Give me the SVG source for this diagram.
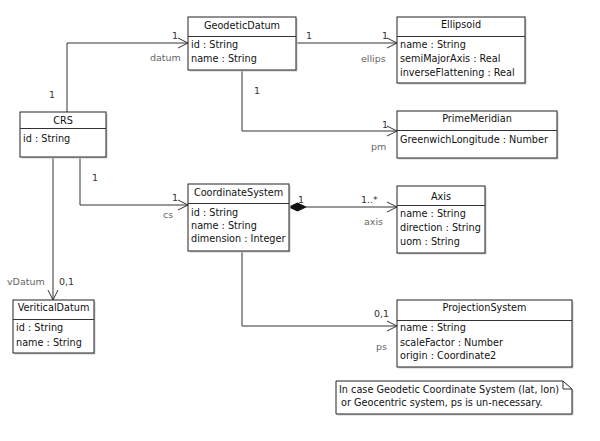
<svg xmlns="http://www.w3.org/2000/svg" width="600" height="441" viewBox="0 0 600 441">
<defs>
<style>
text{font-family:"DejaVu Sans","Liberation Sans",sans-serif;font-size:9.7px;fill:#111}
.t{text-anchor:middle}
.box{fill:#fff;stroke:#222;stroke-width:1}
.sh{fill:#ccc}
.ln{fill:none;stroke:#333;stroke-width:1}
.role{fill:#666;font-size:9.5px}
.mult{fill:#333;font-size:9.5px}
</style>
<marker id="open" markerWidth="12" markerHeight="12" refX="11" refY="6" orient="auto" markerUnits="userSpaceOnUse">
<path d="M1,1 L11,6 L1,11" fill="none" stroke="#333" stroke-width="1"/>
</marker>
</defs>
<rect width="600" height="441" fill="#fff"/>

<g id="connectors">
<path class="ln" d="M67,112 V43 H188" marker-end="url(#open)"/>
<path class="ln" d="M80,157 V205 H188" marker-end="url(#open)"/>
<path class="ln" d="M53,157 V300" marker-end="url(#open)"/>
<path class="ln" d="M296,43 H397" marker-end="url(#open)"/>
<path class="ln" d="M242,70 V131 H397" marker-end="url(#open)"/>
<path class="ln" d="M306,207 H397" marker-end="url(#open)"/>
<path d="M289,207 L297.5,203 L306,207 L297.5,211 Z" fill="#111" stroke="#111"/>
<path class="ln" d="M242,251 V326 H397" marker-end="url(#open)"/>
<text class="mult" x="49" y="98">1</text>
<text class="mult" x="172" y="39">1</text>
<text class="role" x="150" y="61">datum</text>
<text class="mult" x="92" y="181">1</text>
<text class="mult" x="172" y="201">1</text>
<text class="role" x="163" y="218">cs</text>
<text class="role" x="7" y="285">vDatum</text>
<text class="mult" x="59" y="285">0,1</text>
<text class="mult" x="306" y="39">1</text>
<text class="mult" x="382" y="39">1</text>
<text class="role" x="361" y="62">ellips</text>
<text class="mult" x="254" y="94">1</text>
<text class="mult" x="382" y="128">1</text>
<text class="role" x="371" y="150">pm</text>
<text class="mult" x="298" y="203">1</text>
<text class="mult" x="361" y="203">1..*</text>
<text class="role" x="364" y="225">axis</text>
<text class="mult" x="374" y="317">0,1</text>
<text class="role" x="376" y="350">ps</text>
</g>

<g id="GeodeticDatum">
<rect class="sh" x="189.5" y="18.5" width="108" height="53"/>
<rect class="box" x="188" y="17" width="108" height="53"/>
<line class="ln" x1="188" y1="36.5" x2="296" y2="36.5"/>
<text class="t" x="242" y="28.5">GeodeticDatum</text>
<text x="191" y="47.5">id : String</text>
<text x="191" y="61.5">name : String</text>
</g>

<g id="CRS">
<rect class="sh" x="21.5" y="113.5" width="86" height="45"/>
<rect class="box" x="20" y="112" width="86" height="45"/>
<line class="ln" x1="20" y1="128.5" x2="106" y2="128.5"/>
<text class="t" x="63" y="124">CRS</text>
<text x="23" y="141.5">id : String</text>
</g>

<g id="Ellipsoid">
<rect class="sh" x="398.5" y="18.5" width="128" height="66"/>
<rect class="box" x="397" y="17" width="128" height="66"/>
<line class="ln" x1="397" y1="36.5" x2="525" y2="36.5"/>
<text class="t" x="461" y="28">Ellipsoid</text>
<text x="400" y="47.5">name : String</text>
<text x="400" y="61.5">semiMajorAxis : Real</text>
<text x="400" y="75.5">inverseFlattening : Real</text>
</g>

<g id="PrimeMeridian">
<rect class="sh" x="398.5" y="112.5" width="160" height="47"/>
<rect class="box" x="397" y="111" width="160" height="47"/>
<line class="ln" x1="397" y1="130.5" x2="557" y2="130.5"/>
<text class="t" x="477" y="122">PrimeMeridian</text>
<text x="400" y="142.5">GreenwichLongitude : Number</text>
</g>

<g id="CoordinateSystem">
<rect class="sh" x="189.5" y="185.5" width="101" height="67"/>
<rect class="box" x="188" y="184" width="101" height="67"/>
<line class="ln" x1="188" y1="203.5" x2="289" y2="203.5"/>
<text class="t" x="238.5" y="195.5">CoordinateSystem</text>
<text x="191" y="215.5">id : String</text>
<text x="191" y="228.5">name : String</text>
<text x="191" y="241.5">dimension : Integer</text>
</g>

<g id="Axis">
<rect class="sh" x="398.5" y="187.5" width="88" height="67"/>
<rect class="box" x="397" y="186" width="88" height="67"/>
<line class="ln" x1="397" y1="205.5" x2="485" y2="205.5"/>
<text class="t" x="441" y="199.5">Axis</text>
<text x="400" y="216.5">name : String</text>
<text x="400" y="230.5">direction : String</text>
<text x="400" y="244.5">uom : String</text>
</g>

<g id="VeriticalDatum">
<rect class="sh" x="14.5" y="301.5" width="81" height="53"/>
<rect class="box" x="13" y="300" width="81" height="53"/>
<line class="ln" x1="13" y1="319.5" x2="94" y2="319.5"/>
<text class="t" x="53.5" y="311">VeriticalDatum</text>
<text x="16" y="330.5">id : String</text>
<text x="16" y="345.5">name : String</text>
</g>

<g id="ProjectionSystem">
<rect class="sh" x="398.5" y="301.5" width="175" height="67"/>
<rect class="box" x="397" y="300" width="175" height="67"/>
<line class="ln" x1="397" y1="320.5" x2="572" y2="320.5"/>
<text class="t" x="484.5" y="311">ProjectionSystem</text>
<text x="400" y="330.5">name : String</text>
<text x="400" y="345.5">scaleFactor : Number</text>
<text x="400" y="358.5">origin : Coordinate2</text>
</g>

<g id="note">
<path class="sh" d="M337.5,382.5 H564.5 L573.5,390.5 V415.5 H337.5 Z"/>
<path class="box" d="M336,381 H563 L572,389 V414 H336 Z"/>
<path class="ln" d="M563,381 V389 H572"/>
<text x="339" y="392.5">In case Geodetic Coordinate System (lat, lon)</text>
<text x="341" y="405.5">or Geocentric system, ps is un-necessary.</text>
</g>
</svg>
